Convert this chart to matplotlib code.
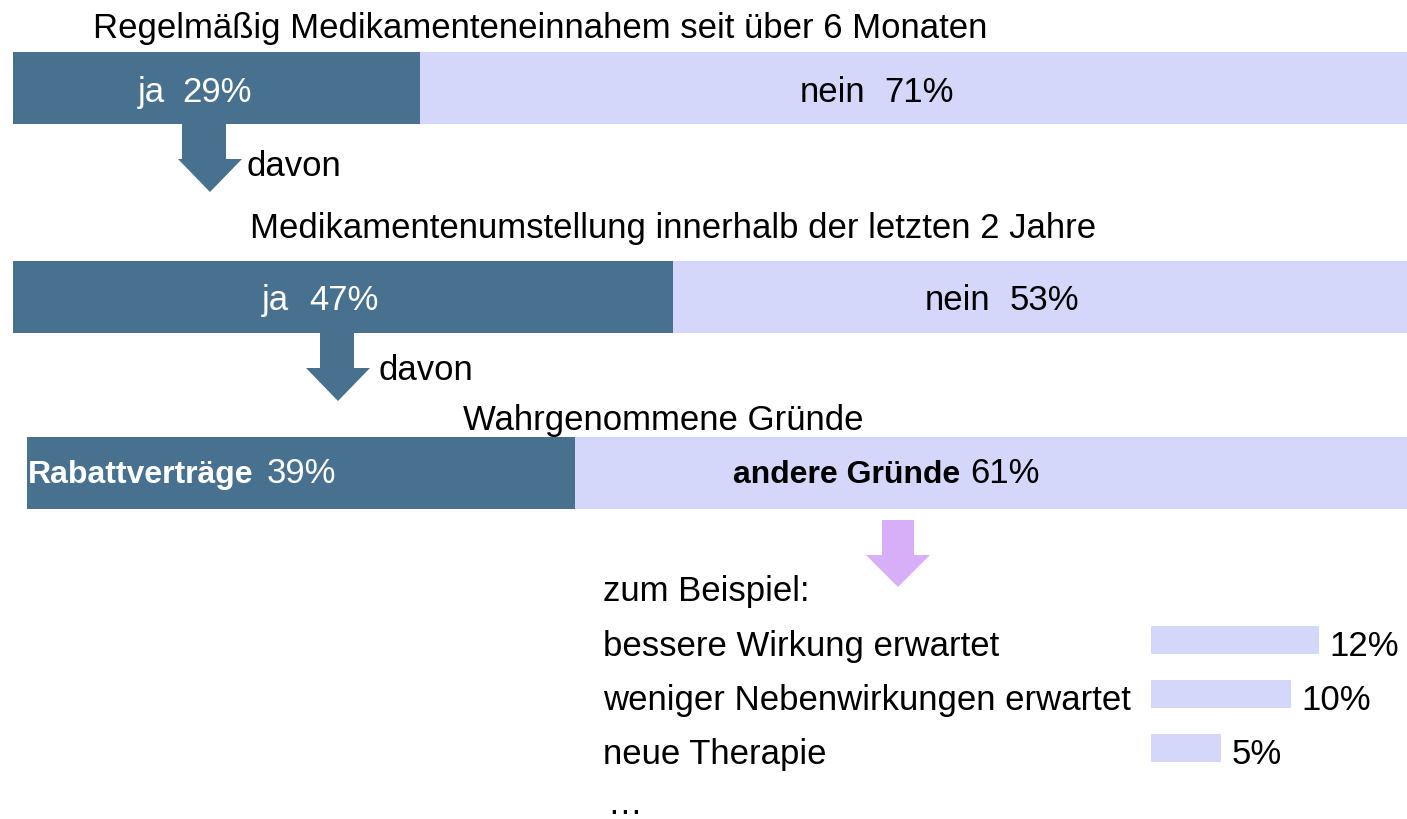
import matplotlib
matplotlib.use("Agg")
import matplotlib.pyplot as plt
from matplotlib.patches import Polygon

plt.rcParams['font.family'] = ['Liberation Sans', 'DejaVu Sans']

# ---- data ----
stage_titles = ["Regelmäßig Medikamenteneinnahem seit über 6 Monaten",
                "Medikamentenumstellung innerhalb der letzten 2 Jahre",
                "Wahrgenommene Gründe"]
stage_labels = [["ja", "nein"], ["ja", "nein"], ["Rabattverträge", "andere Gründe"]]
stage_values = [[29, 71], [47, 53], [39, 61]]
reason_labels = ["bessere Wirkung erwartet", "weniger Nebenwirkungen erwartet", "neue Therapie"]
reason_values = [12, 10, 5]

DARK = "#47718F"
LIGHT = "#D4D6FA"
PURPLE = "#D7AEF8"

W, H = 1407, 819
fig = plt.figure(figsize=(W / 100, H / 100), dpi=100)
fig.patch.set_facecolor("white")

FS = 25
FSB = 23


def px_axes(x0, y0, x1, y1, z=1):
    ax = fig.add_axes([x0 / W, 1 - y1 / H, (x1 - x0) / W, (y1 - y0) / H])
    ax.set_zorder(z)
    ax.patch.set_alpha(0)
    ax.axis("off")
    return ax


# stacked bars (one axes per stage, 0..100 %)
bar_boxes = [(13, 52, 124), (13, 261, 333), (27, 437, 509)]
for (x0, y0, y1), vals in zip(bar_boxes, stage_values):
    ax = px_axes(x0, y0, x0 + 1405, y1)
    ax.barh(0, vals[0], height=1, color=DARK, left=0)
    ax.barh(0, vals[1], height=1, color=LIGHT, left=vals[0])
    ax.set_xlim(0, 100)
    ax.set_ylim(-0.5, 0.5)

# small reason bars
axr = px_axes(1151, 613, 1151 + 210, 775)
ys = list(range(len(reason_values)))
axr.barh(ys, reason_values, height=28 / 54, color=LIGHT)
axr.set_xlim(0, 15)
axr.set_ylim(2.5, -0.5)
for y, v in zip(ys, reason_values):
    axr.annotate(f"{v}%", (v, y + 0.3), xytext=(7.5, 0), textcoords="offset points",
                 va="baseline", ha="left", fontsize=FS, color="black")

# overlay for arrows & text (pixel coordinates)
ov = px_axes(0, 0, W, H, z=5)
ov.set_xlim(0, W)
ov.set_ylim(H, 0)


def arrow(sx0, sx1, y_top, y_head, hx0, hx1, tip, color):
    cx_tip = (hx0 + hx1) / 2
    pts = [(sx0, y_top), (sx1, y_top), (sx1, y_head), (hx1, y_head),
           (cx_tip, tip), (hx0, y_head), (sx0, y_head)]
    ov.add_patch(Polygon(pts, closed=True, facecolor=color, edgecolor="none"))


arrow(182, 226, 124, 159, 178, 242, 192, DARK)
arrow(320, 354, 333, 368, 306, 370, 401, DARK)
arrow(882, 914, 520, 555, 866, 930, 587, PURPLE)


def txt(x, y, s, color="black", fs=FS, weight="normal"):
    ov.text(x, y, s, color=color, fontsize=fs, fontweight=weight,
            ha="left", va="baseline")


# titles
txt(93, 38, stage_titles[0])
txt(250, 238, stage_titles[1])
txt(463, 430, stage_titles[2])

# stage 1 labels
txt(138, 102, stage_labels[0][0], color="white")
txt(182, 102, f"{stage_values[0][0]}%", color="white")
txt(800, 102, stage_labels[0][1])
txt(884, 102, f"{stage_values[0][1]}%")
txt(247, 176, "davon")

# stage 2 labels
txt(262, 310, stage_labels[1][0], color="white")
txt(309, 310, f"{stage_values[1][0]}%", color="white")
txt(925, 310, stage_labels[1][1])
txt(1010, 310, f"{stage_values[1][1]}%")
txt(378, 380, "davon")

# stage 3 labels
txt(28, 483, stage_labels[2][0], color="white", fs=FSB, weight="bold")
txt(267, 483, f"{stage_values[2][0]}%", color="white")
txt(733, 483, stage_labels[2][1], fs=FSB, weight="bold")
txt(970, 483, f"{stage_values[2][1]}%")

# reasons
txt(603, 601, "zum Beispiel:")
for i, lab in enumerate(reason_labels):
    txt(603, 656 + 54 * i, lab)
txt(607, 814, "…")

fig.savefig("out.png", dpi=100, facecolor="white")
